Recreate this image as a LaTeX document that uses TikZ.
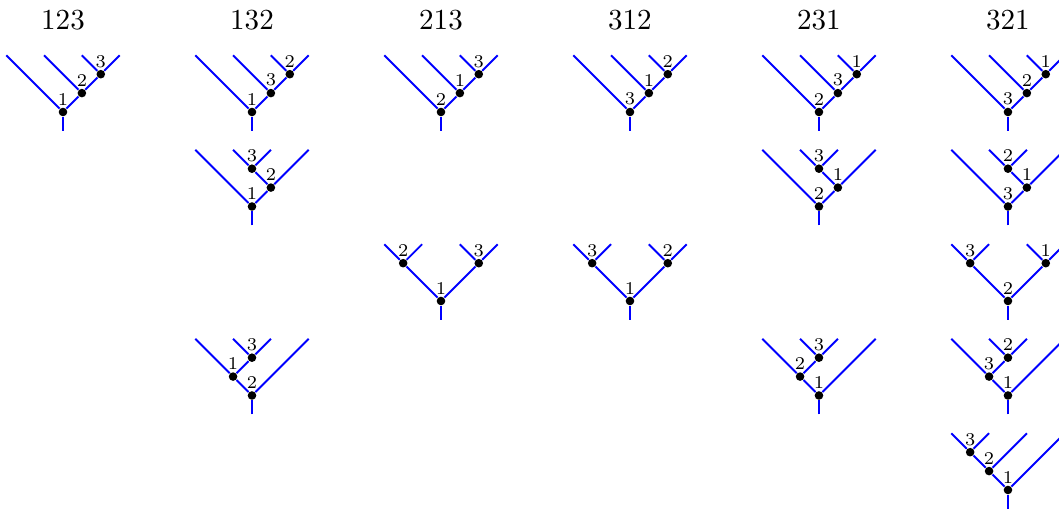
\documentclass[tikz,border=0pt]{standalone}
\usepackage{xcolor}
\usepackage{tikz}
\usetikzlibrary{positioning}

\tikzset{
  edge/.style={blue, line width=0.7pt},
  vtx/.style={circle, fill=black, inner sep=0pt, minimum size=3.1pt},
  lbl/.style={font=\fontsize{6.5}{7.5}\selectfont, inner sep=0.5pt},
  perm/.style={font=\fontsize{10.5}{12}\selectfont}
}

% generic planar binary tree: shift, middle vertex, top vertex, labels, edges
\newcommand{\pbtree}[7]{%
  \begin{scope}[shift={#1}]
    \coordinate (s) at (0,-1);
    \foreach \k in {0,...,3} \coordinate (l\k) at (2*\k-3,3);
    \node[vtx, label={[lbl]above:#4}] (r) at (0,0) {};
    \node[vtx, label={[lbl]above:#5}] (m) at #2 {};
    \node[vtx, label={[lbl]above:#6}] (t) at #3 {};
    \draw[edge] (s) -- (r);
    \foreach \a/\b in {#7} \draw[edge] (\a) -- (\b);
  \end{scope}}

% the five shapes with four leaves
\newcommand{\treeA}[4]{\pbtree{#1}{(1,1)}{(2,2)}{#2}{#3}{#4}{r/l0, r/m, m/l1, m/t, t/l2, t/l3}}
\newcommand{\treeB}[4]{\pbtree{#1}{(1,1)}{(0,2)}{#2}{#3}{#4}{r/l0, r/m, m/t, t/l1, t/l2, m/l3}}
\newcommand{\treeC}[4]{\pbtree{#1}{(-2,2)}{(2,2)}{#2}{#3}{#4}{r/m, r/t, m/l0, m/l1, t/l2, t/l3}}
\newcommand{\treeD}[4]{\pbtree{#1}{(-1,1)}{(0,2)}{#2}{#3}{#4}{r/m, r/l3, m/l0, m/t, t/l1, t/l2}}
\newcommand{\treeE}[4]{\pbtree{#1}{(-1,1)}{(-2,2)}{#2}{#3}{#4}{r/m, r/l3, m/t, m/l2, t/l0, t/l1}}

\begin{document}
\begin{tikzpicture}[x=0.24cm, y=0.24cm]

  \useasboundingbox (-3.333,-21.06) rectangle (52.70,5.926);

  % --- column headers (permutations) ---
  \foreach \p [count=\i from 0] in {123,132,213,312,231,321}
    \node[perm] (h\i) at (10*\i, 4.85) {\p};

  % --- column 123 ---
  \treeA{(0,0)}{1}{2}{3}

  % --- column 132 ---
  \treeA{(10,0)}{1}{3}{2}
  \treeB{(10,-5)}{1}{2}{3}
  \treeD{(10,-15)}{2}{1}{3}

  % --- column 213 ---
  \treeA{(20,0)}{2}{1}{3}
  \treeC{(20,-10)}{1}{2}{3}

  % --- column 312 ---
  \treeA{(30,0)}{3}{1}{2}
  \treeC{(30,-10)}{1}{3}{2}

  % --- column 231 ---
  \treeA{(40,0)}{2}{3}{1}
  \treeB{(40,-5)}{2}{1}{3}
  \treeD{(40,-15)}{1}{2}{3}

  % --- column 321 ---
  \treeA{(50,0)}{3}{2}{1}
  \treeB{(50,-5)}{3}{1}{2}
  \treeC{(50,-10)}{2}{3}{1}
  \treeD{(50,-15)}{1}{3}{2}
  \treeE{(50,-20)}{1}{2}{3}

\end{tikzpicture}
\end{document}
